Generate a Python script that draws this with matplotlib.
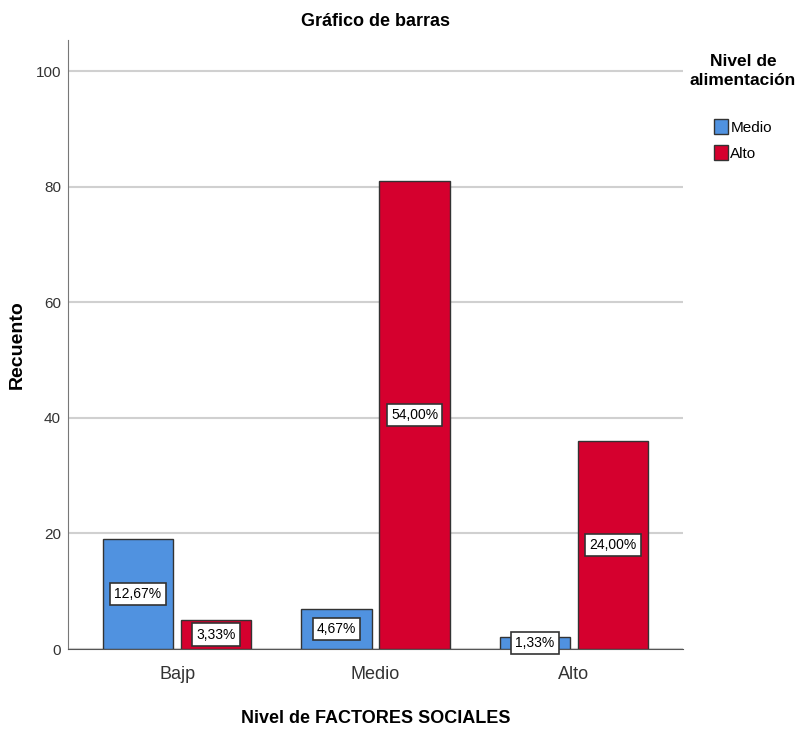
import numpy as np
import matplotlib.pyplot as plt

# Recuento por nivel de factores sociales y nivel de alimentacion
categorias = ["Bajp", "Medio", "Alto"]
medio = [19, 7, 2]
alto = [5, 81, 36]
total = 150
series = ["Medio", "Alto"]
colores = ["#5092e0", "#d5002e"]

plt.rcParams['font.family'] = ['Liberation Sans', 'DejaVu Sans']

fig = plt.figure(figsize=(7.99, 7.37), dpi=100)
ax = fig.add_axes([0.085, 0.1194, 0.77, 0.8263])

x = np.arange(len(categorias))
w = 0.354
gap = 0.04
for i, (vals, col, nom) in enumerate(zip([medio, alto], colores, series)):
    pos = x + (i - 0.5) * (w + gap)
    bars = ax.bar(pos, vals, width=w, color=col, edgecolor="#333333",
                  linewidth=1.0, label=nom, zorder=3)
    for b, v in zip(bars, vals):
        pct = f"{v / total * 100:.2f}%".replace(".", ",")
        ax.text(b.get_x() + b.get_width() / 2, v / 2, pct, ha="center",
                va="center", fontsize=10, zorder=5, clip_on=False,
                bbox=dict(boxstyle="square,pad=0.3", fc="white",
                          ec="#333333", lw=1.2))

ax.set_xlim(-0.55, 2.55)
ax.set_ylim(0, 105.4)
ax.set_yticks([0, 20, 40, 60, 80, 100])
ax.set_xticks(x)
ax.set_xticklabels(categorias, fontsize=13)
ax.tick_params(axis="y", labelsize=11, length=0, pad=5, colors="#333333")
ax.tick_params(axis="x", length=0, pad=12, colors="#333333")
ax.grid(axis="y", color="#d0d0d0", linewidth=1.5, zorder=0)
for s in ["top", "right"]:
    ax.spines[s].set_visible(False)
ax.spines["left"].set_color("#777777")
ax.spines["bottom"].set_color("#555555")

ax.set_title("Gráfico de barras", fontsize=13, fontweight="bold", pad=10)
ax.set_xlabel("Nivel de FACTORES SOCIALES", fontsize=13, fontweight="bold",
              labelpad=20)
fig.text(0.022, 0.532, "Recuento", rotation=90, ha="center", va="center",
         fontsize=14, fontweight="bold")

leg = fig.legend(title="Nivel de\nalimentación", loc="upper center",
                 bbox_to_anchor=(0.93, 0.935), frameon=False, fontsize=11,
                 handlelength=0.9, handleheight=1.2, handletextpad=0.15,
                 labelspacing=0.65, borderaxespad=0.0)
t = leg.get_title()
t.set_fontsize(12.5)
t.set_fontweight("bold")
t.set_multialignment("center")
t.set_linespacing(1.35)
leg._legend_box.align = "center"
leg._legend_box.sep = 22

fig.savefig("out.png", dpi=100)
